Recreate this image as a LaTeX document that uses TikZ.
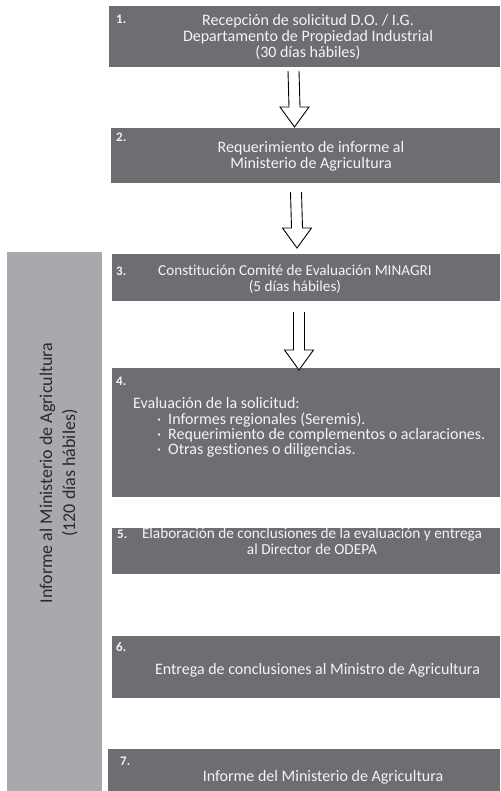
\documentclass[tikz,border=0pt]{standalone}
\usepackage{fontspec}
\setmainfont{Carlito}[Ligatures=NoCommon]
\usetikzlibrary{calc}
\definecolor{darkbox}{HTML}{6D6E71}
\definecolor{lightbar}{HTML}{A7A9AC}
\definecolor{boxtext}{HTML}{F4F4F4}
\definecolor{bartext}{HTML}{2A2A2A}
\tikzset{
  bartop/.style={fill=lightbar, draw=none, inner sep=0pt},
  boxtxt/.style={text=boxtext, font=\fontsize{16}{16.3}\selectfont, inner sep=0pt, align=center},
  numtxt/.style={text=boxtext, font=\fontsize{13}{13}\selectfont\bfseries, inner sep=0pt, anchor=west},
  hollow/.style={draw=black, line width=0.9pt, fill=white, line join=miter},
}
\newcommand{\hollowarrow}[2]{%
  \draw[hollow] ($(#1)+(-5.5,0)$) -- ($(#2)+(-5.5,-20)$) -- ($(#2)+(-14.5,-20)$) -- (#2)
    -- ($(#2)+(14.5,-20)$) -- ($(#2)+(5.5,-20)$) -- ($(#1)+(5.5,0)$);}
\begin{document}
\begin{tikzpicture}[x=1pt,y=-1pt]
\useasboundingbox (0,0) rectangle (500,791);
% left bar
\fill[lightbar] (7,252) rectangle (102,791);
\node[bartop, fill=none, rotate=90, text=bartext, align=center, font=\fontsize{18}{23}\selectfont] (bar) at (58.5,473)
  {Informe al Ministerio de Agricultura\\(120 días hábiles)};
% boxes
\path[fill=darkbox] (109,6) rectangle (500,67);
\path[fill=darkbox] (111,128) rectangle (500,183);
\path[fill=darkbox] (112,254) rectangle (500,301);
\path[fill=darkbox] (112,368) rectangle (500,497);
\path[fill=darkbox] (112,528) rectangle (500,574);
\path[fill=darkbox] (112,636) rectangle (500,698);
\path[fill=darkbox] (108,749) rectangle (500,791);
% numbers
\node[numtxt] (n1) at (116,19) {1.};
\node[numtxt] (n2) at (116,137) {2.};
\node[numtxt] (n3) at (116,271) {3.};
\node[numtxt] (n4) at (116,381) {4.};
\node[numtxt] (n5) at (117,534) {5.};
\node[numtxt] (n6) at (116,647) {6.};
\node[numtxt] (n7) at (120,761) {7.};
% texts
\node[boxtxt] (t1) at (308,37) {Recepción de solicitud D.O. / I.G.\\Departamento de Propiedad Industrial\\(30 días hábiles)};
\node[boxtxt] (t2) at (311,156.5) {Requerimiento de informe al\\Ministerio de Agricultura};
\node[boxtxt, font=\fontsize{15.2}{16}\selectfont] (t3) at (295,279) {Constitución Comité de Evaluación MINAGRI\\(5 días hábiles)};
\node[boxtxt, align=left, anchor=north west, font=\fontsize{16}{15}\selectfont] (t4) at (133,397)
  {Evaluación de la solicitud:\\[1.5pt]
   \hspace*{24pt}·\hspace*{7pt}Informes regionales (Seremis).\\
   \hspace*{24pt}·\hspace*{7pt}Requerimiento de complementos o aclaraciones.\\
   \hspace*{24pt}·\hspace*{7pt}Otras gestiones o diligencias.};
\node[boxtxt, font=\fontsize{15.3}{15.5}\selectfont] (t5) at (312,541) {Elaboración de conclusiones de la evaluación y entrega\\al Director de ODEPA};
\node[boxtxt] (t6) at (317.5,670) {Entrega de conclusiones al Ministro de Agricultura};
\node[boxtxt] (t7) at (323,777) {Informe del Ministerio de Agricultura};
% arrows
\coordinate (a1s) at (293.5,71);  \coordinate (a1e) at (294.5,127);
\coordinate (a2s) at (296,192);   \coordinate (a2e) at (297,248);
\coordinate (a3s) at (299,312);   \coordinate (a3e) at (299,370);
\hollowarrow{a1s}{a1e}
\hollowarrow{a2s}{a2e}
\hollowarrow{a3s}{a3e}
\end{tikzpicture}
\end{document}
